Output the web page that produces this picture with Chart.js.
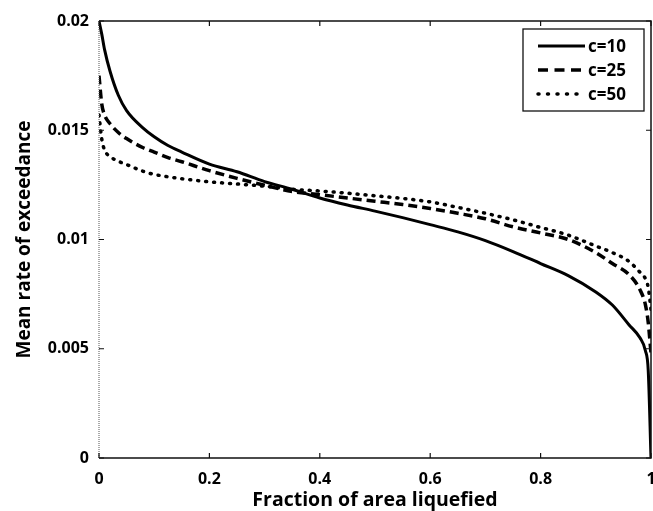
<!DOCTYPE html>
<html>
<head>
<meta charset="utf-8">
<script src="https://cdn.jsdelivr.net/npm/chart.js@4"></script>
<style>
  html, body { margin: 0; padding: 0; background: #fff; }
  #wrap { width: 653px; height: 511px; }
</style>
</head>
<body>
<div id="wrap"><canvas id="myChart" width="653" height="511"></canvas></div>
<script>
// valeurs
const fractions = [0, 0.005, 0.01, 0.02, 0.035, 0.05, 0.08, 0.1, 0.125, 0.15, 0.2, 0.25, 0.3, 0.35, 0.4, 0.45, 0.5, 0.55, 0.6, 0.65, 0.7, 0.75, 0.8, 0.85, 0.9, 0.93, 0.96, 0.98, 0.99, 0.995, 1];
const rateC10 = [0.0200, 0.0194, 0.0187, 0.0177, 0.0166, 0.0159, 0.0151, 0.0147, 0.0143, 0.0140, 0.01345, 0.0131, 0.01265, 0.0123, 0.0119, 0.01158, 0.0113, 0.0110, 0.01068, 0.01035, 0.00995, 0.00945, 0.0089, 0.00835, 0.0076, 0.0070, 0.0061, 0.0055, 0.0049, 0.0040, 0];
const rateC25 = [0.0175, 0.0162, 0.0157, 0.0153, 0.0149, 0.01462, 0.0142, 0.0140, 0.01375, 0.01356, 0.01315, 0.0128, 0.01248, 0.0122, 0.01205, 0.0119, 0.01175, 0.0116, 0.01142, 0.0112, 0.01095, 0.01058, 0.0103, 0.0100, 0.0094, 0.0089, 0.0084, 0.0077, 0.0070, 0.0062, 0.0048];
const rateC50 = [0.0157, 0.0146, 0.0141, 0.0138, 0.01358, 0.01343, 0.01312, 0.01298, 0.01287, 0.01278, 0.01264, 0.01254, 0.01244, 0.0123, 0.01222, 0.01212, 0.0120, 0.01188, 0.01172, 0.01147, 0.0112, 0.0109, 0.01055, 0.0102, 0.0097, 0.0094, 0.0090, 0.0085, 0.0082, 0.0078, 0.0068];
const seriesLabels = ['c=10', 'c=25', 'c=50'];
const xTicks = [0, 0.2, 0.4, 0.6, 0.8, 1];
const xTickLabels = ['0', '0.2', '0.4', '0.6', '0.8', '1'];
const yTicks = [0, 0.005, 0.01, 0.015, 0.02];
const yTickLabels = ['0', '0.005', '0.01', '0.015', '0.02'];

const FONT = "'Open Sans', 'DejaVu Sans', sans-serif";
const styles = [
    { width: 3, dash: [], cap: 'butt' },
    { width: 3.5, dash: [9, 5], cap: 'butt' },
    { width: 3.5, dash: [1, 7], cap: 'round' }
];
const legendDash = [[], [10, 6.5], [1, 8.5]];

const toPoints = ys => fractions.map((x, i) => ({ x: x, y: ys[i] }));

// cadre + graduations vers l'intérieur, façon matlab
const boxPlugin = {
    id: 'box',
    afterDatasetsDraw(chart) {
        const { ctx, chartArea: a, scales } = chart;
        ctx.save();
        ctx.strokeStyle = '#111';
        ctx.lineWidth = 1.5;
        ctx.beginPath();
        ctx.moveTo(a.left, a.top); ctx.lineTo(a.right, a.top);
        ctx.lineTo(a.right, a.bottom); ctx.lineTo(a.left, a.bottom);
        ctx.stroke();
        ctx.setLineDash([1, 1]);
        ctx.lineWidth = 1;
        ctx.strokeStyle = '#555';
        ctx.beginPath();
        ctx.moveTo(a.left, a.top); ctx.lineTo(a.left, a.bottom);
        ctx.stroke();
        ctx.setLineDash([]);
        ctx.strokeStyle = '#111';
        ctx.lineWidth = 1.2;
        ctx.beginPath();
        xTicks.forEach(v => {
            const px = scales.x.getPixelForValue(v);
            ctx.moveTo(px, a.bottom); ctx.lineTo(px, a.bottom - 5);
            ctx.moveTo(px, a.top); ctx.lineTo(px, a.top + 5);
        });
        yTicks.forEach(v => {
            const py = scales.y.getPixelForValue(v);
            ctx.moveTo(a.left, py); ctx.lineTo(a.left + 5, py);
            ctx.moveTo(a.right, py); ctx.lineTo(a.right - 5, py);
        });
        ctx.stroke();

        // légende
        const lw = 121, lh = 82;
        const lx = a.right - 7 - lw, ly = a.top + 8;
        ctx.fillStyle = '#fff';
        ctx.fillRect(lx, ly, lw, lh);
        ctx.lineWidth = 1.3;
        ctx.strokeRect(lx, ly, lw, lh);
        ctx.font = 'bold 17px ' + FONT;
        ctx.textBaseline = 'middle';
        chart.data.datasets.forEach((ds, i) => {
            const y = ly + 17 + i * 24;
            ctx.save();
            ctx.strokeStyle = '#000';
            ctx.lineWidth = ds.borderWidth;
            ctx.setLineDash(legendDash[i]);
            ctx.lineCap = ds.borderCapStyle;
            ctx.beginPath();
            ctx.moveTo(lx + 15, y); ctx.lineTo(lx + 62, y);
            ctx.stroke();
            ctx.restore();
            ctx.fillStyle = '#000';
            ctx.fillText(ds.label, lx + 65, y + 1);
        });
        ctx.restore();
    }
};

new Chart(document.getElementById('myChart').getContext('2d'), {
    type: 'line',
    data: {
        datasets: [rateC10, rateC25, rateC50].map((ys, i) => ({
            label: seriesLabels[i],
            data: toPoints(ys),
            borderColor: '#000',
            borderWidth: styles[i].width,
            borderDash: styles[i].dash,
            borderCapStyle: styles[i].cap,
            pointRadius: 0,
            cubicInterpolationMode: 'monotone',
            fill: false
        }))
    },
    options: {
        responsive: false,
        animation: false,
        layout: { padding: { top: 21, right: 2, left: 0, bottom: 0 } },
        plugins: { legend: { display: false }, tooltip: { enabled: false } },
        scales: {
            x: {
                type: 'linear', min: 0, max: 1,
                afterFit: s => { s.height = 53; s.paddingRight = 0; s.paddingLeft = 0; },
                afterBuildTicks: s => { s.ticks = xTicks.map(v => ({ value: v })); },
                ticks: {
                    color: '#000', padding: 12,
                    font: { family: FONT, size: 16, weight: 'bold' },
                    callback: v => xTickLabels[xTicks.indexOf(v)]
                },
                grid: { display: false, drawTicks: false },
                border: { display: false },
                title: {
                    display: true, text: 'Fraction of area liquefied', color: '#000',
                    font: { family: FONT, size: 19.5, weight: 'bold' }, padding: { top: 0, bottom: -1 }
                }
            },
            y: {
                type: 'linear', min: 0, max: 0.02,
                afterFit: s => { s.width = 99; s.paddingTop = 0; s.paddingBottom = 0; },
                afterBuildTicks: s => { s.ticks = yTicks.map(v => ({ value: v })); },
                ticks: {
                    color: '#000', padding: 10,
                    font: { family: FONT, size: 16, weight: 'bold' },
                    callback: v => yTickLabels[yTicks.indexOf(v)]
                },
                grid: { display: false, drawTicks: false },
                border: { display: false },
                title: {
                    display: true, text: 'Mean rate of exceedance', color: '#000',
                    font: { family: FONT, size: 19, weight: 'bold' }, padding: { top: 13, bottom: 0 }
                }
            }
        }
    },
    plugins: [boxPlugin]
});
</script>
</body>
</html>
